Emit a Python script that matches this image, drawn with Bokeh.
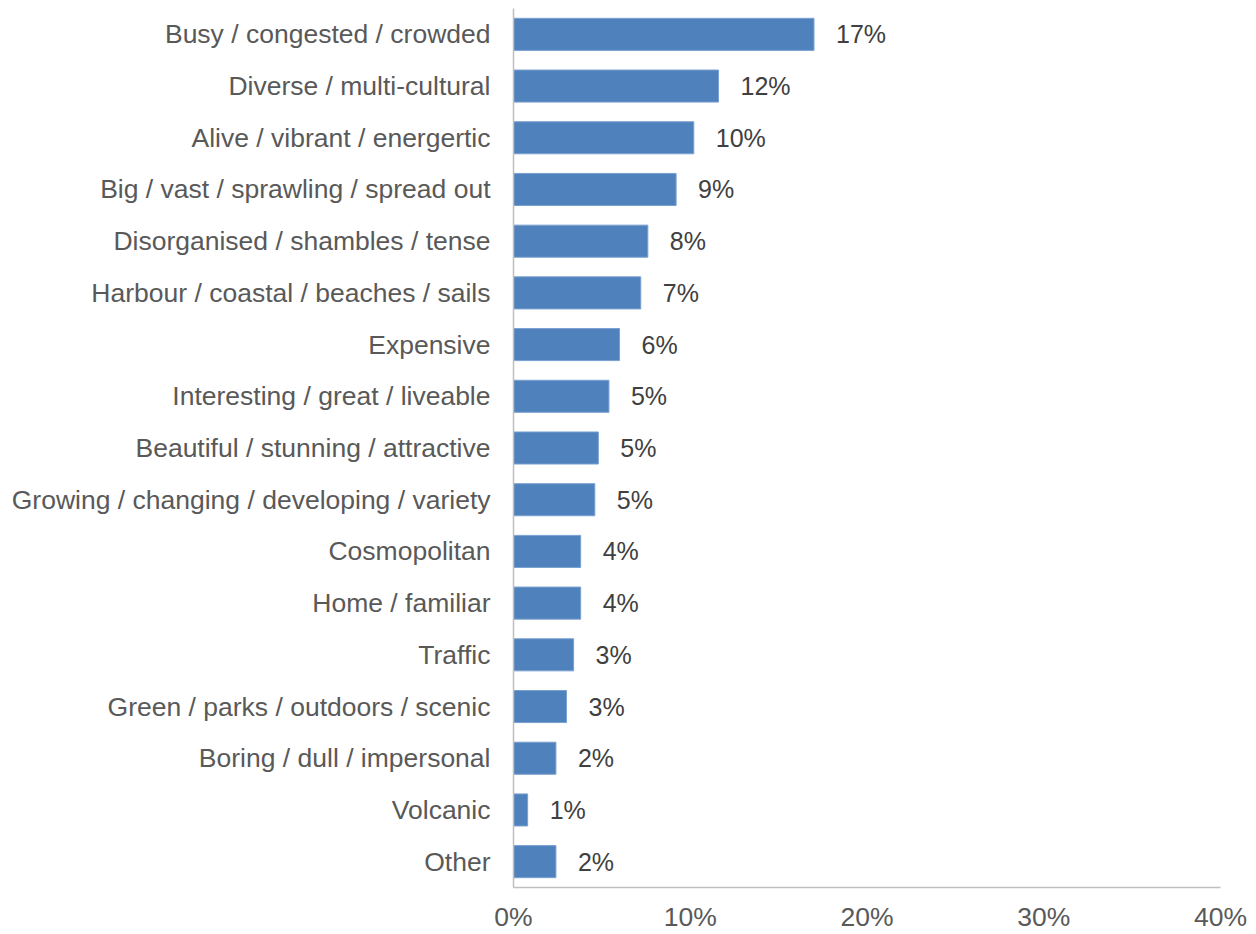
from bokeh.plotting import figure
from bokeh.models import ColumnDataSource, FactorRange, NumeralTickFormatter, FixedTicker
from bokeh.core.properties import value
from bokeh.embed import file_html
from bokeh.resources import INLINE

categories = [
    "Busy / congested / crowded",
    "Diverse / multi-cultural",
    "Alive / vibrant / energertic",
    "Big / vast / sprawling / spread out",
    "Disorganised / shambles / tense",
    "Harbour / coastal / beaches / sails",
    "Expensive",
    "Interesting / great / liveable",
    "Beautiful / stunning / attractive",
    "Growing / changing / developing / variety",
    "Cosmopolitan",
    "Home / familiar",
    "Traffic",
    "Green / parks / outdoors / scenic",
    "Boring / dull / impersonal",
    "Volcanic",
    "Other",
]
percent = [17.0, 11.6, 10.2, 9.2, 7.6, 7.2, 6.0, 5.4, 4.8, 4.6, 3.8, 3.8, 3.4, 3.0, 2.4, 0.8, 2.4]
x_ticks = [0, 0.1, 0.2, 0.3, 0.4]

share = [v / 100.0 for v in percent]
labels = [f"{round(v)}%" for v in percent]

src = ColumnDataSource(dict(cat=categories, share=share, label=labels))

FONT = "Liberation Sans"

p = figure(
    width=1250, height=934,
    y_range=FactorRange(*reversed(categories)),
    x_range=(0, 0.4),
    output_backend="svg", toolbar_location=None,
    min_border_left=513, min_border_right=30, min_border_top=8, min_border_bottom=45,
)
p.outline_line_color = None
p.background_fill_color = "white"
p.border_fill_color = "white"

p.hbar(y="cat", right="share", left=0, height=0.62, source=src,
       fill_color="#4f81bd", line_color="#7aa0d0", line_width=1)

p.text(x="share", y="cat", text="label", source=src,
       x_offset=22, text_baseline="middle", text_align="left",
       text_font=value(FONT), text_font_size="25px", text_color="#404040")

p.xgrid.visible = False
p.ygrid.visible = False

p.xaxis.ticker = FixedTicker(ticks=x_ticks)
p.xaxis.formatter = NumeralTickFormatter(format="0%")
for ax in (p.xaxis, p.yaxis):
    ax.axis_line_color = "#bfbfbf"
    ax.axis_line_width = 1.5
    ax.major_tick_line_color = None
    ax.minor_tick_line_color = None
    ax.major_label_text_font = FONT
    ax.major_label_text_font_size = "26.5px"
    ax.major_label_text_color = "#595959"

p.xaxis.major_label_standoff = 8
p.yaxis.major_label_standoff = 17

open("out.html", "w").write(file_html(p, INLINE))
